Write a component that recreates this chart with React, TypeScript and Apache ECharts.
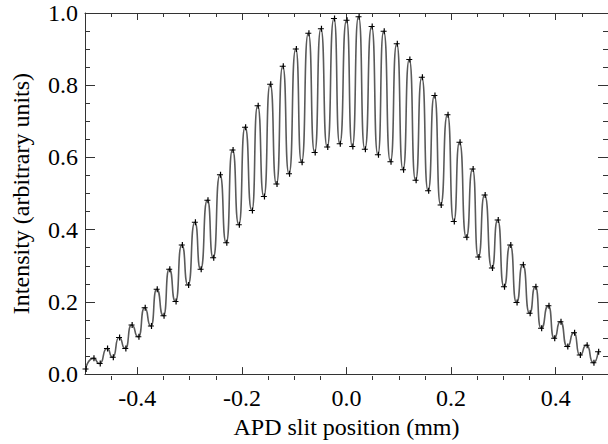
import React, { useEffect, useRef } from "react";
import * as echarts from "echarts";

// Fringe extrema (APD slit position in mm, intensity in arbitrary units)
const positionMm = [
  -0.499, -0.484, -0.472, -0.458, -0.447, -0.435, -0.423, -0.411, -0.398, -0.386,
  -0.374, -0.363, -0.35, -0.339, -0.327, -0.315, -0.303, -0.29, -0.279, -0.266,
  -0.255, -0.242, -0.23, -0.218, -0.206, -0.194, -0.181, -0.17, -0.158, -0.146,
  -0.134, -0.122, -0.11, -0.097, -0.086, -0.073, -0.061, -0.049, -0.037, -0.024,
  -0.013, 0.0, 0.011, 0.023, 0.035, 0.048, 0.06, 0.071, 0.084, 0.096,
  0.108, 0.12, 0.132, 0.144, 0.156, 0.168, 0.18, 0.193, 0.205, 0.216,
  0.229, 0.241, 0.252, 0.264, 0.278, 0.289, 0.301, 0.313, 0.325, 0.337,
  0.35, 0.361, 0.372, 0.386, 0.397, 0.409, 0.422, 0.435, 0.446, 0.459,
  0.472, 0.481,
];
const intensity = [
  0.03, 0.059, 0.045, 0.086, 0.062, 0.116, 0.086, 0.15, 0.118, 0.197,
  0.147, 0.247, 0.175, 0.302, 0.214, 0.368, 0.259, 0.43, 0.302, 0.49,
  0.333, 0.559, 0.374, 0.627, 0.423, 0.689, 0.462, 0.747, 0.5, 0.806,
  0.534, 0.855, 0.562, 0.902, 0.593, 0.945, 0.62, 0.957, 0.635, 0.985,
  0.644, 0.98, 0.636, 0.99, 0.629, 0.963, 0.614, 0.95, 0.595, 0.916,
  0.573, 0.873, 0.544, 0.825, 0.516, 0.775, 0.477, 0.723, 0.432, 0.648,
  0.389, 0.575, 0.335, 0.504, 0.305, 0.436, 0.254, 0.368, 0.211, 0.314,
  0.182, 0.254, 0.141, 0.202, 0.114, 0.159, 0.091, 0.129, 0.068, 0.095,
  0.047, 0.077,
];

const xMajorTicks = [-0.4, -0.2, 0.0, 0.2, 0.4];
const xMinorTicks = [
  -0.45, -0.35, -0.3, -0.25, -0.15, -0.1, -0.05, 0.05, 0.1, 0.15, 0.25, 0.3, 0.35, 0.45,
];

const FONT = "Liberation Serif";
const AXIS_COLOR = "#333";
const GRID = { left: 85, top: 13, right: -2, bottom: 64 };

// Axes, ticks and texts
function makeAxesOption(): any {
  const text = { fontFamily: FONT, fontSize: 24, color: "#000" };
  const xBase = { type: "value", min: -0.5, max: 0.5, splitLine: { show: false } };
  const yBase = { type: "value", min: 0, max: 1, interval: 0.2, splitLine: { show: false } };
  return {
    animation: false,
    grid: GRID,
    xAxis: [
      {
        ...xBase,
        position: "bottom",
        axisLine: { show: true, onZero: false, lineStyle: { color: AXIS_COLOR } },
        axisTick: { show: true, inside: true, length: 7, customValues: xMajorTicks, lineStyle: { color: AXIS_COLOR } },
        axisLabel: {
          show: true,
          customValues: xMajorTicks,
          formatter: (v: number) => v.toFixed(1),
          ...text,
          margin: 12,
        },
        name: "APD slit position (mm)",
        nameLocation: "middle",
        nameGap: 38,
        nameTextStyle: { ...text },
      },
      {
        ...xBase,
        position: "top",
        axisLine: { show: true, onZero: false, lineStyle: { color: AXIS_COLOR } },
        axisTick: { show: true, inside: true, length: 7, customValues: xMajorTicks, lineStyle: { color: AXIS_COLOR } },
        axisLabel: { show: false },
      },
    ],
    yAxis: [
      {
        ...yBase,
        position: "left",
        axisLine: { show: true, onZero: false, lineStyle: { color: AXIS_COLOR } },
        axisTick: { show: true, inside: true, length: 10, lineStyle: { color: AXIS_COLOR } },
        minorTick: { show: true, splitNumber: 4, length: 5, lineStyle: { color: AXIS_COLOR } },
        axisLabel: { show: true, formatter: (v: number) => v.toFixed(1), ...text, margin: 7 },
        name: "Intensity (arbitrary units)",
        nameLocation: "middle",
        nameGap: 52,
        nameTextStyle: { ...text },
      },
      {
        ...yBase,
        position: "right",
        axisLine: { show: true, onZero: false, lineStyle: { color: AXIS_COLOR } },
        axisTick: { show: true, inside: true, length: 10, lineStyle: { color: AXIS_COLOR } },
        minorTick: { show: true, splitNumber: 4, length: 5, lineStyle: { color: AXIS_COLOR } },
        axisLabel: { show: false },
      },
    ],
    series: [],
  };
}

// Measured points, fitted curve and minor x ticks (no texts)
function makeDataOption(): any {
  const xBase = { type: "value", min: -0.5, max: 0.5, splitLine: { show: false } };
  const minorX = (position: string) => ({
    ...xBase,
    position,
    axisLine: { show: false, onZero: false },
    axisTick: { show: true, inside: true, length: 4, customValues: xMinorTicks, lineStyle: { color: AXIS_COLOR } },
    axisLabel: { show: false },
  });
  return {
    animation: false,
    grid: GRID,
    xAxis: [
      { ...xBase, show: false },
      minorX("bottom"),
      minorX("top"),
    ],
    yAxis: [{ type: "value", min: 0, max: 1, show: false, splitLine: { show: false } }],
    series: [
      {
        type: "line",
        xAxisIndex: 0,
        yAxisIndex: 0,
        data: positionMm.map((x, i) => [x, intensity[i]]),
        smooth: 0.7,
        smoothMonotone: "x",
        showSymbol: true,
        showAllSymbol: true,
        symbol: "path://M0,2.5H5V3.5H0Z M2.5,0H3.5V6H2.5Z",
        symbolSize: 6,
        itemStyle: { color: "#000" },
        lineStyle: { color: "#5a5a5a", width: 1.6 },
        z: 3,
      },
    ],
  };
}

export default function App() {
  const axesRef = useRef<HTMLDivElement>(null);
  const dataRef = useRef<HTMLDivElement>(null);

  useEffect(() => {
    if (!axesRef.current || !dataRef.current) return;
    const axesChart = echarts.init(axesRef.current, null, { renderer: "svg" });
    axesChart.setOption(makeAxesOption());
    const dataChart = echarts.init(dataRef.current, null, { renderer: "svg" });
    dataChart.setOption(makeDataOption());
    return () => {
      dataChart.dispose();
      axesChart.dispose();
    };
  }, []);

  const box = { position: "absolute" as const, left: 0, top: 0, width: 608, height: 444 };
  return (
    <div style={{ ...box, background: "#fff", overflow: "hidden" }}>
      <div ref={axesRef} style={box} />
      <div ref={dataRef} style={box} />
    </div>
  );
}
